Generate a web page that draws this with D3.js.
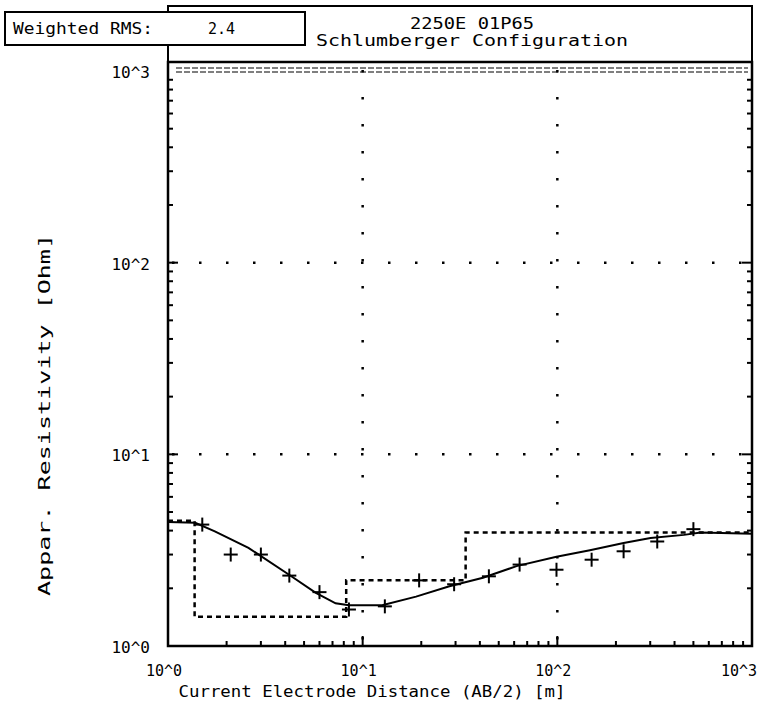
<!DOCTYPE html>
<html>
<head>
<meta charset="utf-8">
<script src="https://cdn.jsdelivr.net/npm/d3@7"></script>
<style>
	body { margin: 0; background: #fff; }
	text { font-family: "DejaVu Sans Mono", monospace; fill: #000; }
</style>
</head>
<body>
<div id="chart-area"></div>
<script>
// Sounding data: current electrode distance AB/2 [m] and apparent resistivity [Ohm m]
let abHalf = [1.5, 2.1, 3.0, 4.2, 6.0, 8.5, 13, 19.5, 29.5, 44.5, 64, 99, 150, 219, 326, 500];
let rhoApp = [4.3, 3.0, 3.0, 2.33, 1.91, 1.55, 1.61, 2.2, 2.1, 2.31, 2.66, 2.5, 2.82, 3.12, 3.51, 4.07];

// Calculated model curve
let modelAB = [1, 1.38, 1.74, 2.59, 4.17, 5.72, 7.26, 8.5, 12.6, 18.8, 27.9, 41.5, 61.7, 99, 147, 219, 301, 447, 545, 1000];
let modelRho = [4.44, 4.39, 3.96, 3.25, 2.36, 1.90, 1.67, 1.63, 1.63, 1.81, 2.05, 2.27, 2.61, 2.92, 3.16, 3.45, 3.66, 3.80, 3.91, 3.85];

// Layered earth model (boundary depths and layer resistivities)
let layerDepth = [1.37, 8.23, 33.8];
let layerRho = [4.5, 1.42, 2.2, 3.91];

// Axis ticks
let decades = [1, 10, 100, 1000];
let decadeLabels = ["10^0", "10^1", "10^2", "10^3"];
let minorSteps = [2, 3, 4, 5, 6, 7, 8, 9];

let titleLines = ["2250E 01P65", "Schlumberger Configuration"];
let rmsLabel = "Weighted RMS:", rmsValue = "2.4";
let xTitle = "Current Electrode Distance (AB/2) [m]";
let yTitle = "Appar. Resistivity [Ohm]";

let width = 762, height = 716;

let svg = d3.select("#chart-area")
	.append("svg")
	.attr("width", width)
	.attr("height", height);

// log scales over three decades
let x = d3.scaleLog().domain([1, 1000]).range([168, 752]);
let y = d3.scaleLog().domain([1, 1000]).range([646, 71]);

let x0 = x(1), x1 = x(1000), y0 = y(1), yTop = 62;

// header box
svg.append("rect")
	.attr("x", x0).attr("y", 6)
	.attr("width", x1 - x0).attr("height", yTop - 6)
	.attr("fill", "#fff").attr("stroke", "#000").attr("stroke-width", 2);

svg.selectAll(".title")
	.data(titleLines)
	.enter()
	.append("text")
	.attr("class", "title")
	.attr("x", 472)
	.attr("y", (d, i) => 29 + i * 17)
	.attr("text-anchor", "middle")
	.attr("font-size", 15)
	.attr("textLength", (d, i) => i == 0 ? 124 : 312)
	.attr("lengthAdjust", "spacingAndGlyphs")
	.text(d => d);

// weighted rms box
svg.append("rect")
	.attr("x", 5).attr("y", 12)
	.attr("width", 300).attr("height", 33)
	.attr("fill", "#fff").attr("stroke", "#000").attr("stroke-width", 2);

svg.append("text")
	.attr("x", 13).attr("y", 34)
	.attr("font-size", 15)
	.attr("textLength", 140)
	.attr("lengthAdjust", "spacingAndGlyphs")
	.text(rmsLabel);

svg.append("text")
	.attr("x", 208).attr("y", 34)
	.attr("font-size", 15)
	.text(rmsValue);

// dotted grid lines at inner decades
let inner = decades.slice(1, 3);
svg.selectAll(".vgrid")
	.data(inner)
	.enter()
	.append("line")
	.attr("x1", d => x(d)).attr("x2", d => x(d))
	.attr("y1", yTop + 8).attr("y2", y0)
	.attr("stroke", "#000").attr("stroke-width", 2.5)
	.attr("stroke-dasharray", "2.5,24.5");

svg.selectAll(".hgrid")
	.data(inner)
	.enter()
	.append("line")
	.attr("x1", x0 + 4).attr("x2", x1)
	.attr("y1", d => y(d)).attr("y2", d => y(d))
	.attr("stroke", "#000").attr("stroke-width", 2.5)
	.attr("stroke-dasharray", "2.5,24.5");

// top decade line drawn as a fine double dashed rule
[-3, 1].forEach(off => {
	svg.append("line")
		.attr("x1", x0 + 8).attr("x2", x1 - 4)
		.attr("y1", y(1000) + off).attr("y2", y(1000) + off)
		.attr("stroke", "#000").attr("stroke-width", 1.2)
		.attr("stroke-dasharray", "6,2");
});

// minor and major ticks, pointing inwards
let tickVals = [];
decades.slice(0, 3).forEach(d => {
	minorSteps.forEach(k => tickVals.push({v: d * k, len: 5}));
	if (d > 1) tickVals.push({v: d, len: 10});
});

let ticks = svg.append("g").attr("stroke", "#000").attr("stroke-width", 2);

ticks.selectAll(".xt")
	.data(tickVals)
	.enter()
	.append("line")
	.attr("x1", d => x(d.v)).attr("x2", d => x(d.v))
	.attr("y1", y0).attr("y2", d => y0 - d.len);

ticks.selectAll(".yl")
	.data(tickVals)
	.enter()
	.append("line")
	.attr("x1", x0).attr("x2", d => x0 + d.len)
	.attr("y1", d => y(d.v)).attr("y2", d => y(d.v));

ticks.selectAll(".yr")
	.data(tickVals)
	.enter()
	.append("line")
	.attr("x1", x1).attr("x2", d => x1 - d.len)
	.attr("y1", d => y(d.v)).attr("y2", d => y(d.v));

// layered model as dashed step line
let steps = [[1, layerRho[0]]];
layerDepth.forEach((dpt, i) => {
	steps.push([dpt, layerRho[i]]);
	steps.push([dpt, layerRho[i + 1]]);
});
steps.push([1000, layerRho[layerRho.length - 1]]);

svg.append("path")
	.datum(steps)
	.attr("fill", "none")
	.attr("stroke", "#000")
	.attr("stroke-width", 2.5)
	.attr("stroke-dasharray", "5,4")
	.attr("d", d3.line().x(d => x(d[0])).y(d => y(d[1])));

// model curve
svg.append("path")
	.datum(modelAB.map((v, i) => [v, modelRho[i]]))
	.attr("fill", "none")
	.attr("stroke", "#000")
	.attr("stroke-width", 2)
	.attr("d", d3.line().x(d => x(d[0])).y(d => y(d[1])));

// measured points as crosses
let pts = svg.selectAll(".pt")
	.data(abHalf.map((v, i) => [v, rhoApp[i]]))
	.enter()
	.append("g")
	.attr("transform", d => "translate(" + x(d[0]) + "," + y(d[1]) + ")");

pts.append("line").attr("x1", -7).attr("x2", 7).attr("stroke", "#000").attr("stroke-width", 2);
pts.append("line").attr("y1", -7).attr("y2", 7).attr("stroke", "#000").attr("stroke-width", 2);

// frame
svg.append("rect")
	.attr("x", x0).attr("y", yTop)
	.attr("width", x1 - x0).attr("height", y0 - yTop)
	.attr("fill", "none").attr("stroke", "#000").attr("stroke-width", 2.5);

// axis labels
svg.selectAll(".xl")
	.data(decades)
	.enter()
	.append("text")
	.attr("x", (d, i) => i == 3 ? 757 : x(d) - 4)
	.attr("y", 676)
	.attr("text-anchor", (d, i) => i == 3 ? "end" : "middle")
	.attr("font-size", 15)
	.text((d, i) => decadeLabels[i]);

svg.selectAll(".yl2")
	.data(decades)
	.enter()
	.append("text")
	.attr("x", 150)
	.attr("y", d => y(d) + 7)
	.attr("text-anchor", "end")
	.attr("font-size", 16)
	.text((d, i) => decadeLabels[i]);

svg.append("text")
	.attr("x", 372).attr("y", 697)
	.attr("text-anchor", "middle")
	.attr("font-size", 15)
	.attr("textLength", 387)
	.attr("lengthAdjust", "spacingAndGlyphs")
	.text(xTitle);

svg.append("text")
	.attr("transform", "translate(50,415) rotate(-90)")
	.attr("text-anchor", "middle")
	.attr("font-size", 15)
	.attr("textLength", 362)
	.attr("lengthAdjust", "spacingAndGlyphs")
	.text(yTitle);
</script>
</body>
</html>
